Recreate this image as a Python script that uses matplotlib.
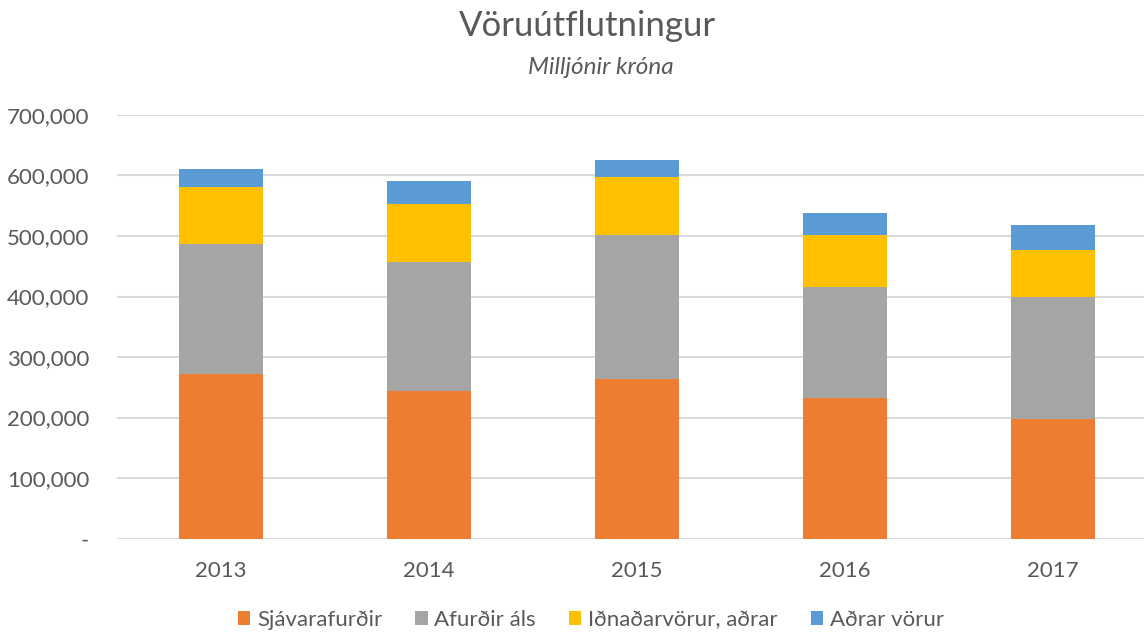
import matplotlib
matplotlib.use("Agg")
import matplotlib.pyplot as plt
from matplotlib.ticker import FuncFormatter, MultipleLocator
import numpy as np

years = ["2013", "2014", "2015", "2016", "2017"]
sjavarafurdir = [272000, 244000, 264000, 233000, 197500]
afurdir_als = [214500, 213500, 238000, 182000, 201500]
idnadarvorur = [94000, 95500, 95000, 87000, 78500]
adrar_vorur = [30000, 38000, 29000, 36000, 40500]

series = [
    ("Sjávarafurðir", sjavarafurdir, "#ED7D31"),
    ("Afurðir áls", afurdir_als, "#A5A5A5"),
    ("Iðnaðarvörur, aðrar", idnadarvorur, "#FFC000"),
    ("Aðrar vörur", adrar_vorur, "#5B9BD5"),
]

plt.rcParams['font.family'] = ['Lato', 'DejaVu Sans']

W, H = 1144, 632
fig = plt.figure(figsize=(W / 100, H / 100), dpi=100)
left, right = 117, 1157
top, bottom = 115, 538.5
ax = fig.add_axes([left / W, (H - bottom) / H, (right - left) / W, (bottom - top) / H])

x = np.arange(len(years))
base = np.zeros(len(years))
handles = []
for name, vals, col in series:
    b = ax.bar(x, vals, width=0.404, bottom=base, color=col, label=name, zorder=3)
    handles.append(b)
    base += np.array(vals)

ax.set_xlim(-0.5, len(years) - 0.5)
ax.set_ylim(0, 700000)
ax.yaxis.set_major_locator(MultipleLocator(100000))
ax.yaxis.set_major_formatter(FuncFormatter(lambda v, p: "-" if v == 0 else f"{int(v):,}"))
ax.set_xticks(x)
ax.set_xticklabels(years)
ax.grid(axis="y", color="#D9D9D9", linewidth=1.5, zorder=0)
for s in ax.spines.values():
    s.set_visible(False)
ax.tick_params(axis="both", length=0, labelsize=16, labelcolor="#595959")
ax.tick_params(axis="x", pad=16)
ax.tick_params(axis="y", pad=20)

fig.text(587 / W, 1 - 26 / H, "Vöruútflutningur", ha="center", va="center",
         fontsize=25, color="#595959")
fig.text(601 / W, 1 - 67 / H, "Milljónir króna", ha="center", va="center",
         fontsize=17.5, color="#595959", style="italic")

leg = fig.legend(handles=handles, loc="center", bbox_to_anchor=(591 / W, 1 - 620 / H),
                 ncol=4, frameon=False, fontsize=16, handlelength=0.55, handleheight=0.55,
                 handletextpad=0.3, columnspacing=1.5)
for t in leg.get_texts():
    t.set_color("#595959")

fig.savefig("out.png", dpi=100)
